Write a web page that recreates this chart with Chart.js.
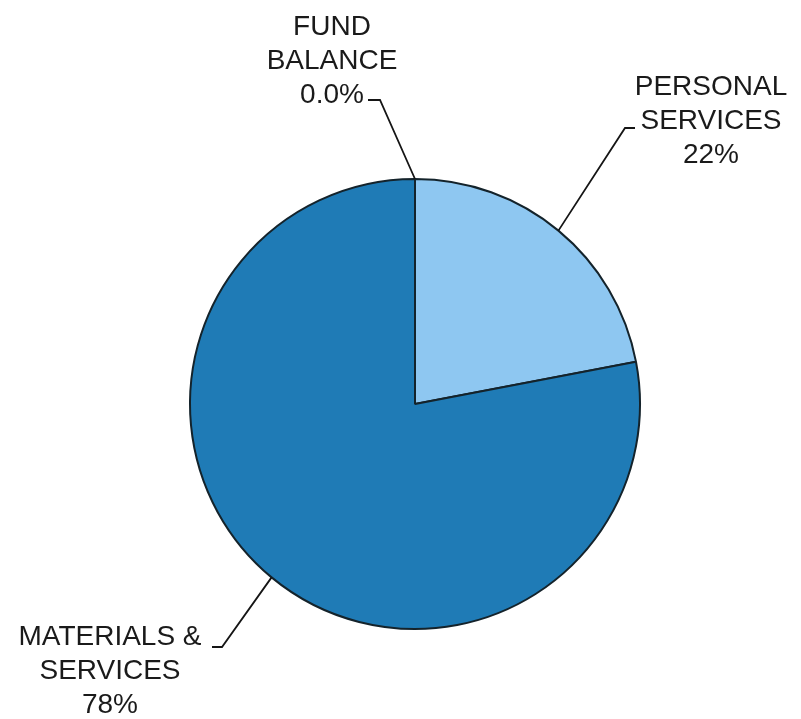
<!DOCTYPE html>
<html>
<head>
<meta charset="utf-8">
<script src="https://cdn.jsdelivr.net/npm/chart.js@4"></script>
<style>
  html, body { margin: 0; padding: 0; background: #fff; }
  #wrap { width: 801px; height: 719px; }
</style>
</head>
<body>
<div id="wrap"><canvas id="budgetPie" width="801" height="719"></canvas></div>
<script>
// Budget split, percent of total
const categories = ['PERSONAL\nSERVICES', 'MATERIALS &\nSERVICES', 'FUND\nBALANCE'];
const shares = [22, 78, 0];
const shareLabels = ['22%', '78%', '0.0%'];
const sliceColors = ['#8ec7f1', '#1f7bb6', '#2a5f8a'];

// Callout layout: elbow of the leader line, tail length, text centre and first baseline
const callouts = [
    { elbow: [625, 128], tail: 10, textX: 711, textY: 95 },
    { elbow: [222, 647], tail: -10, textX: 110, textY: 645 },
    { elbow: [380, 100], tail: -12, textX: 332, textY: 35 }
];

const calloutPlugin = {
    id: 'callouts',
    afterDatasetsDraw(chart) {
        const ctx = chart.ctx;
        const arcs = chart.getDatasetMeta(0).data;
        ctx.save();
        ctx.strokeStyle = '#151515';
        ctx.lineWidth = 1.8;
        ctx.fillStyle = '#1a1a1a';
        ctx.font = '28px "Liberation Sans", Arial, sans-serif';
        ctx.textAlign = 'center';
        ctx.textBaseline = 'alphabetic';

        arcs.forEach((arc, i) => {
            const { x, y, startAngle, endAngle, outerRadius } = arc.getProps(
                ['x', 'y', 'startAngle', 'endAngle', 'outerRadius'], true);
            const mid = (startAngle + endAngle) / 2;
            const ax = x + Math.cos(mid) * outerRadius;
            const ay = y + Math.sin(mid) * outerRadius;
            const c = callouts[i];

            ctx.beginPath();
            ctx.moveTo(ax, ay);
            ctx.lineTo(c.elbow[0], c.elbow[1]);
            ctx.lineTo(c.elbow[0] + c.tail, c.elbow[1]);
            ctx.stroke();

            const lines = categories[i].split('\n').concat(shareLabels[i]);
            lines.forEach((t, k) => ctx.fillText(t, c.textX, c.textY + k * 34));
        });
        ctx.restore();
    }
};

new Chart(document.getElementById('budgetPie'), {
    type: 'pie',
    data: {
        labels: categories,
        datasets: [{
            data: shares,
            backgroundColor: sliceColors,
            borderColor: '#14232b',
            borderWidth: 2
        }]
    },
    options: {
        responsive: false,
        animation: false,
        layout: { padding: { left: 189, top: 178, right: 160, bottom: 89 } },
        plugins: {
            legend: { display: false },
            tooltip: { enabled: false }
        }
    },
    plugins: [calloutPlugin]
});
</script>
</body>
</html>
